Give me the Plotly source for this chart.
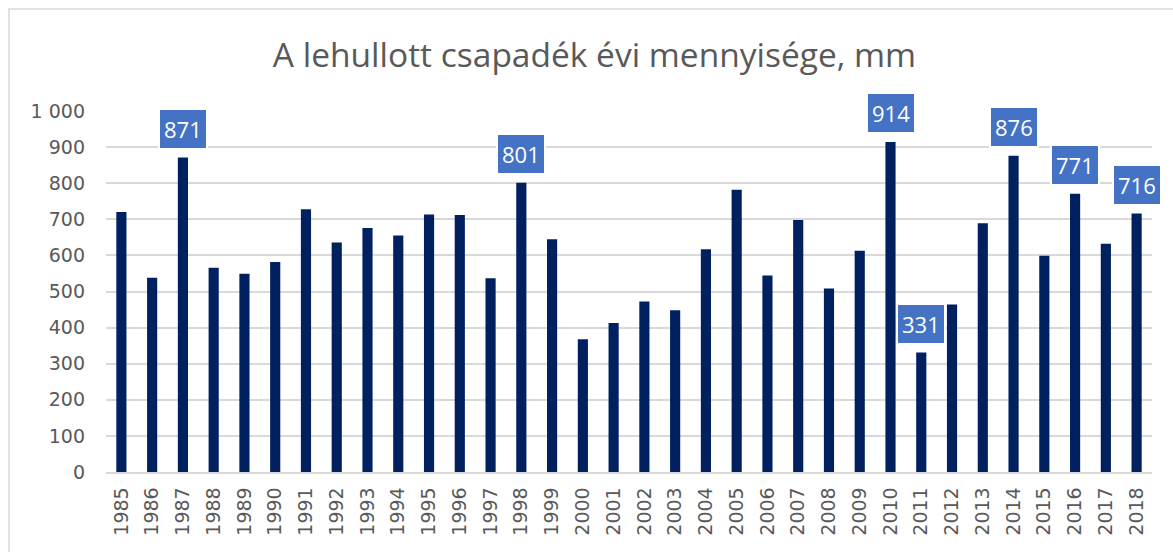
import plotly.graph_objects as go

# Annual precipitation, mm
years = [str(y) for y in range(1985, 2019)]
precip = [720, 538, 871, 566, 549, 582, 728, 636, 676, 655,
          713, 712, 537, 801, 645, 368, 413, 472, 448, 617,
          782, 544, 698, 508, 613, 914, 331, 464, 689, 876,
          599, 771, 632, 716]

# Years whose value is printed in a label box
labelled_years = ["1987", "1998", "2010", "2011", "2014", "2016", "2018"]

y_tickvals = [0, 100, 200, 300, 400, 500, 600, 700, 800, 900, 1000]
y_ticktext = ["0", "100", "200", "300", "400", "500", "600", "700", "800", "900", "1 000"]

title_text = "A lehullott csapadék évi mennyisége, mm"

TITLE_FONT = "Open Sans"
TICK_FONT = "DejaVu Sans"
LABEL_FONT = "Open Sans"
GREY = "#595959"

fig = go.Figure(
    go.Bar(
        x=years,
        y=precip,
        marker=dict(color="#002060", line=dict(width=0)),
        width=0.33,
        hoverinfo="x+y",
    )
)

for idx, (yr, val) in enumerate(zip(years, precip)):
    if yr in labelled_years:
        fig.add_annotation(
            x=idx, y=val, xref="x", yref="y",
            text=str(val), showarrow=False,
            yanchor="bottom", yshift=8,
            font=dict(family=LABEL_FONT, size=22, color="white"),
            bgcolor="#4472C4", bordercolor="white", borderwidth=2, borderpad=4,
        )

# Chart frame (top and left edges visible)
fig.add_shape(
    type="rect", xref="paper", yref="paper",
    x0=(9 - 106) / 1046, x1=1.2, y0=-0.6, y1=(472 - 9) / 361,
    line=dict(color="#d9d9d9", width=1.5), fillcolor="rgba(0,0,0,0)", layer="below",
)

fig.update_layout(
    width=1173, height=552,
    margin=dict(l=106, r=21, t=111, b=80),
    paper_bgcolor="white", plot_bgcolor="white",
    showlegend=False,
    title=dict(
        text=title_text, x=(272 + 917) / 2 / 1173, xref="container", xanchor="center",
        y=1 - 55 / 552, yref="container", yanchor="middle",
        font=dict(family=TITLE_FONT, size=33.5, color=GREY),
    ),
    font=dict(family=TICK_FONT, color=GREY),
)

fig.update_xaxes(
    type="category",
    range=[-0.5, len(years) - 0.5],
    tickangle=-90,
    tickfont=dict(family=TICK_FONT, size=19, color=GREY),
    showgrid=False,
    showline=True, linecolor="#d9d9d9", linewidth=1.5,
    ticks="", ticklabelstandoff=6,
)
fig.update_yaxes(
    range=[0, 1000],
    tickvals=y_tickvals, ticktext=y_ticktext,
    tickfont=dict(family=TICK_FONT, size=19, color=GREY),
    showgrid=True, gridcolor="#d9d9d9", gridwidth=1.5,
    zeroline=False, showline=False,
    ticks="", ticklabelstandoff=20,
)

fig.write_html("out.html")
